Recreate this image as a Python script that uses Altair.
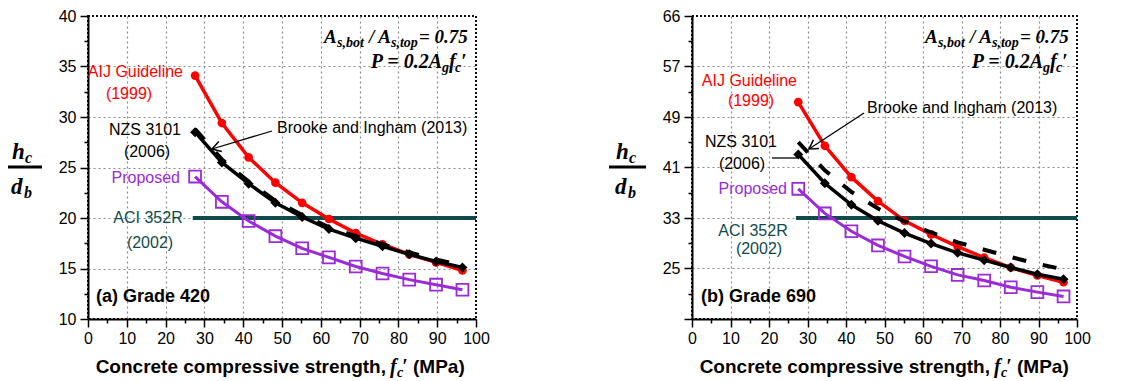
import math
import altair as alt
import pandas as pd

# ---------------- data ----------------
fc = [27.6, 34.5, 41.4, 48.3, 55.2, 62.1, 69.0, 75.9, 82.8, 89.7, 96.5]

aij_420 = [34.1, 29.4, 26.0, 23.5, 21.5, 19.9, 18.5, 17.4, 16.4, 15.6, 14.8]
nzs_420 = [28.5, 25.5, 23.4, 21.5, 20.1, 18.9, 18.0, 17.2, 16.4, 15.7, 15.1]
brooke_420 = [28.8, 25.8, 23.6, 21.7, 20.3, 19.1, 18.2, 17.4, 16.6, 15.9, 15.3]
prop_420 = [24.1, 21.6, 19.7, 18.2, 17.0, 16.1, 15.2, 14.5, 13.9, 13.4, 12.9]
aci_420 = 20.0

aij_690 = [51.7, 44.6, 39.5, 35.6, 32.4, 30.2, 28.2, 26.4, 24.8, 23.5, 22.4]
nzs_690 = [43.2, 38.5, 35.0, 32.4, 30.4, 28.7, 27.2, 26.0, 24.8, 23.7, 22.9]
brooke_690 = [45.2, 40.6, 37.1, 34.4, 32.3, 30.5, 28.9, 27.7, 26.5, 25.4, 24.5]
prop_690 = [37.6, 33.6, 30.7, 28.4, 26.6, 25.0, 23.6, 22.7, 21.6, 20.8, 20.1]
aci_690 = 32.86

aci_x = [27.0, 100.0]

# ---------------- style ----------------
H = 303
RED = "#ff0000"
PURPLE = "#9a2bd6"
TEAL = "#0f4b4b"
SANS = "Liberation Sans"
SERIF = "Liberation Serif"
RATIO = 690 / 420

ONE = alt.Data(values=[{}])


def T(s, x, y, size=16, color="black", font=SANS, weight="normal", style="normal",
      align="left", baseline="middle"):
    return alt.Chart(ONE).mark_text(
        text=s, fontSize=size, color=color, font=font, fontWeight=weight,
        fontStyle=style, align=align, baseline=baseline
    ).encode(x=alt.value(x), y=alt.value(y))


def M(s, x, y, size=19, align="left"):
    return T(s, x, y, size=size, font=SERIF, weight="bold", style="italic",
             align=align, baseline="alphabetic")


def rule(x1, y1, x2, y2, width=1.3, color="black"):
    return alt.Chart(ONE).mark_rule(strokeWidth=width, color=color).encode(
        x=alt.value(x1), y=alt.value(y1), x2=alt.value(x2), y2=alt.value(y2))


def arrowhead(x, y, angle):
    return alt.Chart(ONE).mark_point(
        shape="M -1 -0.6 L 0 0 L -1 0.6", size=300, filled=False,
        stroke="black", strokeWidth=1.5, angle=angle, opacity=1
    ).encode(x=alt.value(x), y=alt.value(y))


xaxis = alt.Axis(
    values=list(range(0, 101, 5)),
    labelExpr="datum.value % 10 === 0 ? format(datum.value, 'd') : ''",
    tickSize={"condition": {"test": "datum.value % 10 === 0", "value": 8}, "value": 4},
    gridOpacity={"condition": {"test": "datum.value % 10 === 0 && datum.value > 0 && datum.value < 100",
                               "value": 1}, "value": 0},
    grid=True, gridColor="#8a8a8a", gridDash=[2, 3], gridWidth=1.2,
    domainColor="black", domainWidth=2, tickColor="black", tickWidth=1.5,
    labelFont=SANS, labelFontSize=16, labelColor="black", labelPadding=3,
    labelFlush=False, labelOverlap=False, title=None,
)


def yaxis(vals, major, label_expr):
    return alt.Axis(
        values=vals, labelExpr=label_expr,
        tickSize={"condition": {"test": major, "value": 8}, "value": 4},
        gridOpacity={"condition": {"test": major + " && datum.value > %f && datum.value < %f"
                                   % (vals[0] + 0.1, vals[-1] - 0.1), "value": 1}, "value": 0},
        grid=True, gridColor="#8a8a8a", gridDash=[2, 3], gridWidth=1.2,
        domainColor="black", domainWidth=2, tickColor="black", tickWidth=1.5,
        labelFont=SANS, labelFontSize=16, labelColor="black", labelPadding=4,
        labelOverlap=False, title=None,
    )


def panel(W, aij, nzs, brooke, prop, aci, ydom, yax, labels, arrow, grade, gx, leader=None):
    X = alt.X("x:Q", scale=alt.Scale(domain=[0, 100], nice=False), axis=xaxis)
    Y = alt.Y("y:Q", scale=alt.Scale(domain=ydom, nice=False, zero=False), axis=yax)

    def df(vals):
        return pd.DataFrame({"x": fc, "y": vals})

    aci_df = pd.DataFrame({"x": aci_x, "y": [aci, aci]})
    layers = [
        alt.Chart(aci_df).mark_line(color=TEAL, strokeWidth=4).encode(x=X, y=Y),
        alt.Chart(df(aij)).mark_line(color=RED, strokeWidth=3.5).encode(x=X, y=Y),
        alt.Chart(df(aij)).mark_point(shape="circle", filled=True, color=RED, size=75, opacity=1).encode(x=X, y=Y),
        alt.Chart(df(prop)).mark_line(color=PURPLE, strokeWidth=3).encode(x=X, y=Y),
        alt.Chart(df(prop)).mark_point(shape="square", filled=False, color=PURPLE, size=140,
                                       strokeWidth=1.8, opacity=1).encode(x=X, y=Y),
        alt.Chart(df(nzs)).mark_line(color="black", strokeWidth=3.5).encode(x=X, y=Y),
        alt.Chart(df(nzs)).mark_point(shape="diamond", filled=True, color="black", size=100, opacity=1).encode(x=X, y=Y),
        alt.Chart(df(brooke)).mark_line(color="black", strokeWidth=4, strokeDash=[14, 17]).encode(x=X, y=Y),
    ]
    # series labels
    (ax, ay), (px, py), (bx, by), (nx, ny), (n2x, n2y), (prx, pry), (cx, cy), (c2x, c2y) = labels
    layers += [
        T("AIJ Guideline", ax, ay, color=RED, align="right"),
        T("(1999)", px, py, color=RED, align="center"),
        T("Brooke and Ingham (2013)", bx, by, align="left"),
        T("NZS 3101", nx, ny, align="right"),
        T("(2006)", n2x, n2y, align="center"),
        T("Proposed", prx, pry, color=PURPLE, align="right"),
        T("ACI 352R", cx, cy, color=TEAL, align="center"),
        T("(2002)", c2x, c2y, color=TEAL, align="center"),
        T(grade, gx, 281, size=18, weight="bold"),
    ]
    (x1, y1, x2, y2) = arrow
    ang = math.degrees(math.atan2(y2 - y1, x2 - x1))
    layers += [rule(x1, y1, x2, y2), arrowhead(x2, y2, ang)]
    if leader:
        layers.append(rule(*leader))
    # formula box (top right), placed from the right edge of the panel
    layers += [
        M("A", W - 152, 27), M("s,bot", W - 139, 31, size=14),
        M("/ A", W - 107, 27), M("s,top", W - 85, 31, size=14),
        M("= 0.75", W - 57, 27),
        M("P = 0.2A", W - 34, 52, size=20, align="right"), M("g", W - 34, 56, size=14),
        M("f", W - 27, 52, size=20), M("c", W - 21, 56, size=14), M("\u2032", W - 15, 52, size=20),
    ]
    # y-axis fraction title
    layers += [
        M("h", -76, 143, size=23), M("c", -63, 147, size=16),
        rule(-83, 151, -46, 151, width=2.8),
        M("d", -77, 178, size=23), M("b", -64, 182, size=16),
    ]
    # x-axis title
    layers += [
        T("Concrete compressive strength,", 298, 357, size=19, weight="bold",
          align="right", baseline="alphabetic"),
        M("f", 302, 357, size=20), M("c", 309, 361, size=14), M("\u2032", 314, 357, size=20),
        T("(MPa)", 325, 357, size=19, weight="bold", baseline="alphabetic"),
    ]
    return alt.layer(*layers).properties(width=W, height=H)


left_vals = [10 + 2.5 * i for i in range(13)]
left_ax = yaxis(left_vals, "datum.value % 5 === 0",
                "datum.value % 5 === 0 ? format(datum.value, 'd') : ''")
right_vals = [2.5 * i * RATIO for i in range(4, 17)]
major_r = "abs(round(datum.value*420/690/5)*5 - datum.value*420/690) < 0.01"
right_ax = yaxis(right_vals, major_r,
                 "(" + major_r + " && datum.value > 17) ? format(floor(datum.value + 0.49), 'd') : ''")

left = panel(
    388, aij_420, nzs_420, brooke_420, prop_420, aci_420, [10, 40], left_ax,
    [(95, 56), (41, 78), (189, 112), (93, 114), (59, 136), (92, 162), (60, 202), (62, 227)],
    (184, 115, 124, 133), "(a) Grade 420", 8,
)
right = panel(
    385, aij_690, nzs_690, brooke_690, prop_690, aci_690, [10 * RATIO, 40 * RATIO], right_ax,
    [(105, 65), (59, 85), (175, 92), (85, 126), (50, 148), (95, 173), (61, 215), (67, 233)],
    (172, 97, 117, 133), "(b) Grade 690", 9, leader=(80, 142, 105, 142),
)

chart = alt.hconcat(left, right, spacing=115).properties(
    padding={"left": -6, "top": -1, "right": 0, "bottom": 0}
).configure_view(stroke="#111111", strokeWidth=2, strokeDash=[2, 2])

chart.save("out.html", embed_options={"renderer": "svg", "actions": False})
